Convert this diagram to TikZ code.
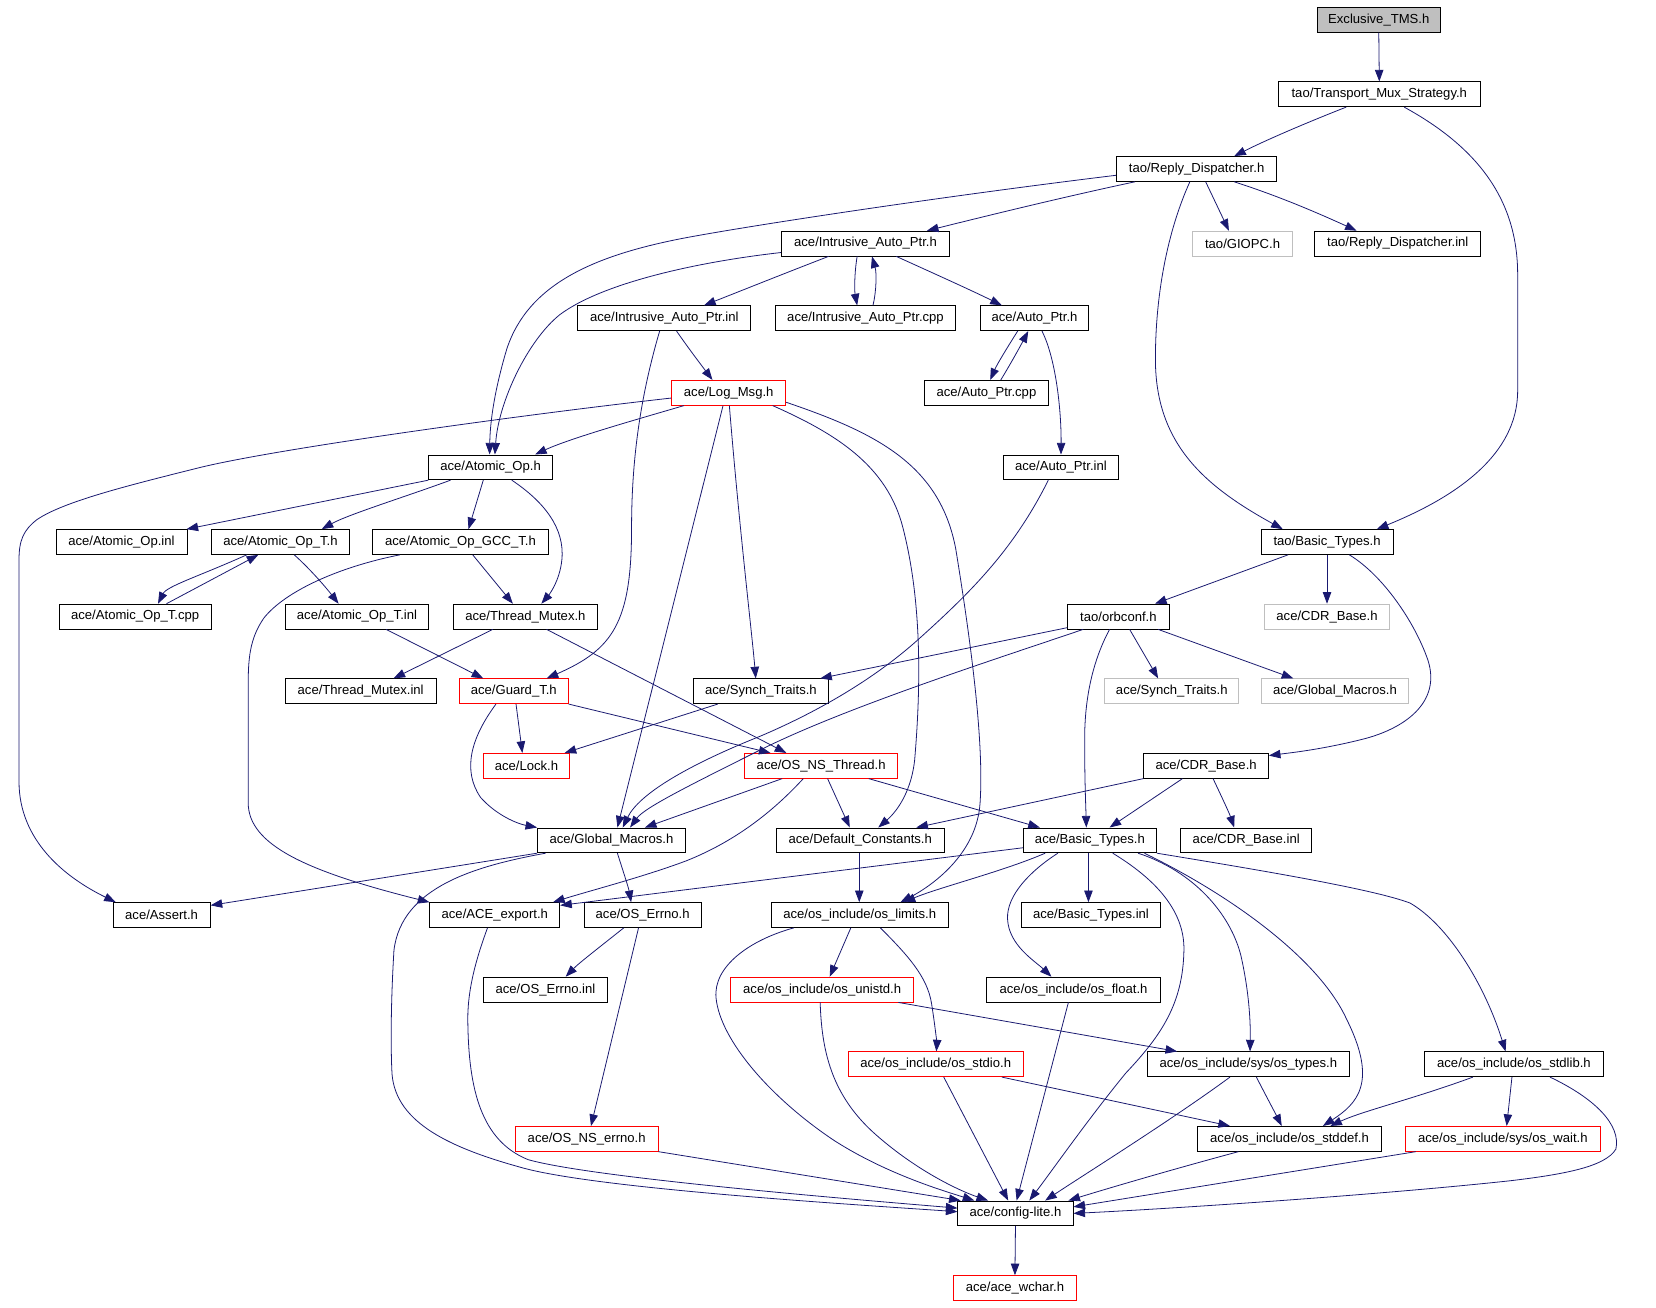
\documentclass[tikz,border=0pt]{standalone}
\usepackage{fontspec}
\setmainfont{Liberation Sans}
\usetikzlibrary{arrows.meta}
\definecolor{edgeblue}{HTML}{191970}
\definecolor{boxgray}{HTML}{BFBFBF}
\newcommand{\nodefont}{\fontsize{12.4}{14}\selectfont}
\newcommand{\mkbox}[6]{\node[#6, minimum width={#4-#3}] (#1) at ({(#3+#4)/2},#5) {#2};}
\begin{document}
\begin{tikzpicture}[x=1pt,y=-1pt,
 box/.style={draw=black, line width=0.8pt, minimum height=23.5pt, inner sep=0pt, font=\nodefont},
 redbox/.style={box, draw=red},
 graybox/.style={box, draw=boxgray},
 rootbox/.style={box, fill=boxgray},
 ed/.style={draw=edgeblue, line width=0.75pt, -{Triangle[length=11pt,width=8pt]}}]
\fill[white] (0,0) rectangle (1568,1238);
\useasboundingbox (0,0) rectangle (1568,1238);
% nodes
\mkbox{ex}{Exclusive\_TMS.h}{1247}{1364}{18.7}{rootbox}
\mkbox{tms}{tao/Transport\_Mux\_Strategy.h}{1210}{1402}{89.3}{box}
\mkbox{rd}{tao/Reply\_Dispatcher.h}{1057}{1209}{160.0}{box}
\mkbox{iaph}{ace/Intrusive\_Auto\_Ptr.h}{740}{899}{230.6}{box}
\mkbox{giopc}{tao/GIOPC.h}{1129}{1224}{230.6}{graybox}
\mkbox{rdinl}{tao/Reply\_Dispatcher.inl}{1245}{1402}{230.6}{box}
\mkbox{iapinl}{ace/Intrusive\_Auto\_Ptr.inl}{547}{711}{301.3}{box}
\mkbox{iapcpp}{ace/Intrusive\_Auto\_Ptr.cpp}{734}{905}{301.3}{box}
\mkbox{autoh}{ace/Auto\_Ptr.h}{928}{1031}{301.3}{box}
\mkbox{logmsg}{ace/Log\_Msg.h}{636}{744}{371.9}{redbox}
\mkbox{autocpp}{ace/Auto\_Ptr.cpp}{875}{993}{371.9}{box}
\mkbox{atomic}{ace/Atomic\_Op.h}{406}{523}{442.5}{box}
\mkbox{autoinl}{ace/Auto\_Ptr.inl}{950}{1059}{442.5}{box}
\mkbox{aoinl}{ace/Atomic\_Op.inl}{53}{177}{513.2}{box}
\mkbox{aoth}{ace/Atomic\_Op\_T.h}{200}{331}{513.2}{box}
\mkbox{gcc}{ace/Atomic\_Op\_GCC\_T.h}{353}{519}{513.2}{box}
\mkbox{taobt}{tao/Basic\_Types.h}{1194}{1319}{513.2}{box}
\mkbox{aotcpp}{ace/Atomic\_Op\_T.cpp}{56}{200}{583.8}{box}
\mkbox{aotinl}{ace/Atomic\_Op\_T.inl}{270}{406}{583.8}{box}
\mkbox{tmh}{ace/Thread\_Mutex.h}{429}{566}{583.8}{box}
\mkbox{orbconf}{tao/orbconf.h}{1011}{1107}{583.8}{box}
\mkbox{cdrg}{ace/CDR\_Base.h}{1197}{1316}{583.8}{graybox}
\mkbox{tminl}{ace/Thread\_Mutex.inl}{270}{413}{654.5}{box}
\mkbox{guard}{ace/Guard\_T.h}{435}{538}{654.5}{redbox}
\mkbox{st}{ace/Synch\_Traits.h}{657}{784}{654.5}{box}
\mkbox{stg}{ace/Synch\_Traits.h}{1046}{1173}{654.5}{graybox}
\mkbox{gmg}{ace/Global\_Macros.h}{1194}{1334}{654.5}{graybox}
\mkbox{lock}{ace/Lock.h}{458}{539}{725.1}{redbox}
\mkbox{ont}{ace/OS\_NS\_Thread.h}{705}{850}{725.1}{redbox}
\mkbox{cdr}{ace/CDR\_Base.h}{1083}{1201}{725.1}{box}
\mkbox{gm}{ace/Global\_Macros.h}{509}{649}{795.7}{box}
\mkbox{dc}{ace/Default\_Constants.h}{735}{894}{795.7}{box}
\mkbox{bt}{ace/Basic\_Types.h}{969}{1095}{795.7}{box}
\mkbox{cdrinl}{ace/CDR\_Base.inl}{1118}{1242}{795.7}{box}
\mkbox{assert}{ace/Assert.h}{107}{199}{866.4}{box}
\mkbox{ace}{ace/ACE\_export.h}{407}{530}{866.4}{box}
\mkbox{errno}{ace/OS\_Errno.h}{553}{664}{866.4}{box}
\mkbox{limits}{ace/os\_include/os\_limits.h}{730}{898}{866.4}{box}
\mkbox{btinl}{ace/Basic\_Types.inl}{967}{1099}{866.4}{box}
\mkbox{errnoinl}{ace/OS\_Errno.inl}{458}{575}{937.0}{box}
\mkbox{unistd}{ace/os\_include/os\_unistd.h}{692}{865}{937.0}{redbox}
\mkbox{float}{ace/os\_include/os\_float.h}{934}{1099}{937.0}{box}
\mkbox{stdio}{ace/os\_include/os\_stdio.h}{803}{969}{1007.7}{redbox}
\mkbox{types}{ace/os\_include/sys/os\_types.h}{1086}{1278}{1007.7}{box}
\mkbox{stdlib}{ace/os\_include/os\_stdlib.h}{1349}{1518}{1007.7}{box}
\mkbox{nserrno}{ace/OS\_NS\_errno.h}{488}{623}{1078.3}{redbox}
\mkbox{stddef}{ace/os\_include/os\_stddef.h}{1134}{1308}{1078.3}{box}
\mkbox{wait}{ace/os\_include/sys/os\_wait.h}{1331}{1515}{1078.3}{redbox}
\mkbox{config}{ace/config-lite.h}{907}{1016}{1148.9}{box}
\mkbox{wchar}{ace/ace\_wchar.h}{903}{1019}{1219.6}{redbox}
% edges
\draw[ed] (ex.south) -- (tms.north);
\draw[ed] ([xshift=65pt]tms.south west) .. controls (1240,115) and (1200,132) .. ([xshift=112pt]rd.north west);
\draw[ed] ([xshift=120pt]tms.south west) .. controls (1400,140) and (1437,190) .. (1437,260) -- (1437,370) .. controls (1437,430) and (1380,470) .. ([xshift=110pt]taobt.north west);
\draw[ed] ([xshift=18pt]rd.south west) .. controls (1000,188) and (920,208) .. ([xshift=138pt]iaph.north west);
\draw[ed] ([yshift=-6pt]rd.west) .. controls (900,185) and (720,212) .. (650,225) .. controls (560,242) and (500,270) .. (480,330) .. controls (468,370) and (464,400) .. ([xshift=58pt]atomic.north west);
\draw[ed] ([xshift=85pt]rd.south west) -- ([xshift=35pt]giopc.north west);
\draw[ed] ([xshift=112pt]rd.south west) .. controls (1215,187) and (1255,205) .. ([xshift=40pt]rdinl.north west);
\draw[ed] ([xshift=70pt]rd.south west) .. controls (1105,220) and (1094,280) .. (1094,340) .. controls (1094,420) and (1140,460) .. ([xshift=21pt]taobt.north west);
\draw[ed] ([xshift=45pt]iaph.south west) .. controls (745,258) and (700,276) .. ([xshift=120pt]iapinl.north west);
\draw[ed] ([xshift=72pt]iaph.south west) .. controls (809,258) and (809,275) .. ([xshift=78pt]iapcpp.north west);
\draw[ed] ([xshift=93pt]iapcpp.north west) .. controls (830,275) and (830,258) .. ([xshift=86pt]iaph.south west);
\draw[ed] ([xshift=109pt]iaph.south west) .. controls (880,257) and (920,275) .. ([xshift=21pt]autoh.north west);
\draw[ed] ([yshift=-8.5pt]iaph.west) .. controls (660,248) and (570,268) .. (530,298) .. controls (500,322) and (472,380) .. ([xshift=63pt]atomic.north west);
\draw[ed] ([xshift=94pt]iapinl.south west) .. controls (652,330) and (665,347) .. ([xshift=39pt]logmsg.north west);
\draw[ed] ([xshift=78pt]iapinl.south west) .. controls (605,380) and (598,440) .. (598,500) .. controls (598,590) and (580,615) .. ([xshift=83pt]guard.north west);
\draw[ed] ([xshift=36pt]autoh.south west) .. controls (955,327) and (944,345) .. ([xshift=63pt]autocpp.north west);
\draw[ed] ([xshift=73pt]autocpp.north west) .. controls (956,346) and (966,328) .. ([xshift=46pt]autoh.south west);
\draw[ed] ([xshift=59pt]autoh.south west) .. controls (1000,340) and (1005,390) .. ([xshift=55pt]autoinl.north west);
\draw[ed] ([xshift=12pt]logmsg.south west) .. controls (600,398) and (540,415) .. ([xshift=101pt]atomic.north west);
\draw[ed] ([yshift=-5pt]logmsg.west) .. controls (500,392) and (260,425) .. (188,443) .. controls (120,460) and (60,475) .. (35,492) .. controls (22,502) and (18,512) .. (18,530) -- (18,740) .. controls (18,795) and (60,830) .. ([xshift=3pt]assert.north west);
\draw[ed] ([xshift=49pt]logmsg.south west) -- ([xshift=76pt]gm.north west);
\draw[ed] ([xshift=55pt]logmsg.south west) .. controls (700,500) and (712,600) .. ([xshift=59pt]st.north west);
\draw[ed] ([xshift=96pt]logmsg.south west) .. controls (790,410) and (840,440) .. (855,500) .. controls (873,570) and (872,650) .. (866,720) .. controls (862,755) and (845,772) .. ([xshift=97pt]dc.north west);
\draw[ed] ([yshift=-9pt]logmsg.east) .. controls (830,410) and (890,440) .. (905,520) .. controls (918,600) and (932,700) .. (928,760) .. controls (925,810) and (880,840) .. ([xshift=123pt]limits.north west);
\draw[ed] ([xshift=43pt]autoinl.south west) .. controls (960,520) and (920,560) .. (870,605) .. controls (820,650) and (760,680) .. (720,697) .. controls (650,725) and (605,752) .. ([xshift=81pt]gm.north west);
\draw[ed] (atomic.south west) -- ([xshift=124pt]aoinl.north west);
\draw[ed] ([xshift=21pt]atomic.south west) .. controls (385,470) and (330,487) .. ([xshift=105pt]aoth.north west);
\draw[ed] ([xshift=52pt]atomic.south west) -- ([xshift=91pt]gcc.north west);
\draw[ed] ([xshift=79pt]atomic.south west) .. controls (515,475) and (535,500) .. (532,530) .. controls (530,550) and (520,563) .. ([xshift=84pt]tmh.north west);
\draw[ed] ([xshift=34pt]aoth.south west) .. controls (190,545) and (158,555) .. ([xshift=94pt]aotcpp.north west);
\draw[ed] ([xshift=102pt]aotcpp.north west) -- ([xshift=45pt]aoth.south west);
\draw[ed] ([xshift=79pt]aoth.south west) .. controls (295,540) and (310,558) .. ([xshift=51pt]aotinl.north west);
\draw[ed] ([xshift=95pt]gcc.south west) -- ([xshift=57pt]tmh.north west);
\draw[ed] ([xshift=26pt]gcc.south west) .. controls (320,537) and (270,560) .. (250,585) .. controls (236,605) and (235,625) .. (235,650) -- (235,760) .. controls (235,800) and (290,825) .. (ace.north west);
\draw[ed] ([xshift=96pt]aotinl.south west) -- ([xshift=23pt]guard.north west);
\draw[ed] ([xshift=38pt]tmh.south west) -- ([xshift=103pt]tminl.north west);
\draw[ed] ([xshift=89pt]tmh.south west) -- ([xshift=40pt]ont.north west);
\draw[ed] ([xshift=54pt]guard.south west) -- ([xshift=37pt]lock.north west);
\draw[ed] (guard.south east) -- ([xshift=25pt]ont.north west);
\draw[ed] ([xshift=35pt]guard.south west) .. controls (445,700) and (438,730) .. (455,755) .. controls (470,772) and (490,780) .. (gm.north west);
\draw[ed] ([xshift=23pt]st.south west) -- ([xshift=77pt]lock.north west);
\draw[ed] ([xshift=26pt]taobt.south west) -- ([xshift=83pt]orbconf.north west);
\draw[ed] (taobt.south) -- (cdrg.north);
\draw[ed] ([xshift=84pt]taobt.south west) .. controls (1310,545) and (1340,590) .. (1352,625) .. controls (1365,665) and (1330,690) .. (1290,700) .. controls (1250,710) and (1220,713) .. ([yshift=-2.5pt]cdr.north east);
\draw[ed] ([yshift=-10.5pt]orbconf.west) -- ([xshift=120pt]st.north west);
\draw[ed] ([xshift=15pt]orbconf.south west) .. controls (940,625) and (800,670) .. (720,710) .. controls (650,745) and (610,765) .. ([xshift=88pt]gm.north west);
\draw[ed] ([xshift=40pt]orbconf.south west) .. controls (1035,625) and (1027,660) .. (1027,700) .. controls (1027,740) and (1028,760) .. ([xshift=60pt]bt.north west);
\draw[ed] ([xshift=59pt]orbconf.south west) -- ([xshift=51pt]stg.north west);
\draw[ed] ([xshift=86pt]orbconf.south west) -- ([xshift=31pt]gmg.north west);
\draw[ed] ([xshift=36pt]ont.south west) -- ([xshift=102pt]gm.north west);
\draw[ed] ([xshift=79pt]ont.south west) -- ([xshift=70pt]dc.north west);
\draw[ed] ([xshift=118pt]ont.south west) -- ([xshift=16pt]bt.north west);
\draw[ed] ([xshift=56pt]ont.south west) .. controls (735,765) and (700,795) .. (650,815) .. controls (610,830) and (560,843) .. ([xshift=117pt]ace.north west);
\draw[ed] (cdr.south west) -- ([xshift=133pt]dc.north west);
\draw[ed] ([xshift=37pt]cdr.south west) -- ([xshift=82pt]bt.north west);
\draw[ed] ([xshift=66pt]cdr.south west) .. controls (1157,755) and (1164,770) .. ([xshift=51pt]cdrinl.north west);
\draw[ed] (gm.south west) -- ([yshift=-3pt]assert.north east);
\draw[ed] ([xshift=76pt]gm.south west) .. controls (590,825) and (595,840) .. ([xshift=45pt]errno.north west);
\draw[ed] ([xshift=8pt]gm.south west) .. controls (450,820) and (380,840) .. (373,900) .. controls (370,950) and (370,990) .. (371,1013) .. controls (372,1060) and (420,1085) .. (492,1105) .. controls (560,1125) and (800,1140) .. ([yshift=1.6pt]config.west);
\draw[ed] ([xshift=79pt]dc.south west) -- ([xshift=84pt]limits.north west);
\draw[ed] ([yshift=-7pt]bt.west) -- ([yshift=-3pt]ace.north east);
\draw[ed] ([xshift=21pt]bt.south west) .. controls (950,825) and (890,840) .. ([xshift=126pt]limits.north west);
\draw[ed] ([xshift=62pt]bt.south west) -- ([xshift=64pt]btinl.north west);
\draw[ed] ([xshift=33pt]bt.south west) .. controls (975,825) and (953,848) .. (954,870) .. controls (955,895) and (980,910) .. ([xshift=62pt]float.north west);
\draw[ed] ([xshift=85pt]bt.south west) .. controls (1090,830) and (1122,860) .. (1121,900) .. controls (1120,950) and (1100,980) .. (1066,1016) .. controls (1030,1060) and (995,1110) .. ([xshift=68pt]config.north west);
\draw[ed] ([xshift=109pt]bt.south west) .. controls (1130,825) and (1165,865) .. (1175,905) .. controls (1184,945) and (1184,975) .. ([xshift=98pt]types.north west);
\draw[ed] ([xshift=115pt]bt.south west) .. controls (1170,850) and (1250,910) .. (1275,965) .. controls (1305,1025) and (1285,1045) .. ([xshift=119pt]stddef.north west);
\draw[ed] (bt.south east) .. controls (1200,825) and (1300,842) .. (1335,855) .. controls (1370,875) and (1405,930) .. ([xshift=77pt]stdlib.north west);
\draw[ed] ([xshift=55pt]ace.south west) .. controls (450,910) and (442,940) .. (443,970) .. controls (444,1030) and (455,1080) .. (500,1098) .. controls (560,1115) and (800,1135) .. ([yshift=5pt]config.west);
\draw[ed] ([xshift=38pt]errno.south west) .. controls (570,895) and (548,912) .. ([xshift=78pt]errnoinl.north west);
\draw[ed] ([xshift=52pt]errno.south west) -- ([xshift=72pt]nserrno.north west);
\draw[ed] ([xshift=76pt]limits.south west) -- ([xshift=94pt]unistd.north west);
\draw[ed] ([xshift=104pt]limits.south west) .. controls (860,905) and (878,925) .. (882,950) .. controls (886,975) and (887,990) .. ([xshift=84pt]stdio.north west);
\draw[ed] ([xshift=22pt]limits.south west) .. controls (710,890) and (675,915) .. (678,945) .. controls (682,985) and (730,1040) .. (790,1080) .. controls (840,1112) and (895,1128) .. ([xshift=16pt]config.north west);
\draw[ed] ([xshift=85pt]unistd.south west) .. controls (778,1000) and (790,1040) .. (830,1075) .. controls (870,1110) and (910,1128) .. ([xshift=29pt]config.north west);
\draw[ed] ([xshift=159pt]unistd.south west) -- ([xshift=29pt]types.north west);
\draw[ed] ([xshift=78pt]float.south west) -- ([xshift=56pt]config.north west);
\draw[ed] ([xshift=91pt]stdio.south west) -- ([xshift=48pt]config.north west);
\draw[ed] ([xshift=146pt]stdio.south west) -- ([xshift=31pt]stddef.north west);
\draw[ed] ([xshift=79pt]types.south west) .. controls (1110,1060) and (1030,1110) .. ([xshift=83pt]config.north west);
\draw[ed] ([xshift=104pt]types.south west) .. controls (1200,1040) and (1208,1055) .. ([xshift=80pt]stddef.north west);
\draw[ed] ([xshift=46pt]stdlib.south west) .. controls (1340,1040) and (1290,1052) .. ([xshift=126pt]stddef.north west);
\draw[ed] ([xshift=83pt]stdlib.south west) -- ([xshift=96pt]wait.north west);
\draw[ed] ([xshift=119pt]stdlib.south west) .. controls (1510,1040) and (1535,1065) .. (1530,1088) .. controls (1520,1105) and (1480,1112) .. (1430,1118) .. controls (1300,1132) and (1100,1145) .. (config.east);
\draw[ed] (nserrno.south east) -- ([xshift=3pt]config.north west);
\draw[ed] ([xshift=39pt]stddef.south west) .. controls (1100,1110) and (1040,1128) .. ([xshift=105pt]config.north west);
\draw[ed] ([xshift=10pt]wait.south west) -- ([yshift=-6pt]config.north east);
\draw[ed] (config.south) -- (wchar.north);
\end{tikzpicture}
\end{document}
